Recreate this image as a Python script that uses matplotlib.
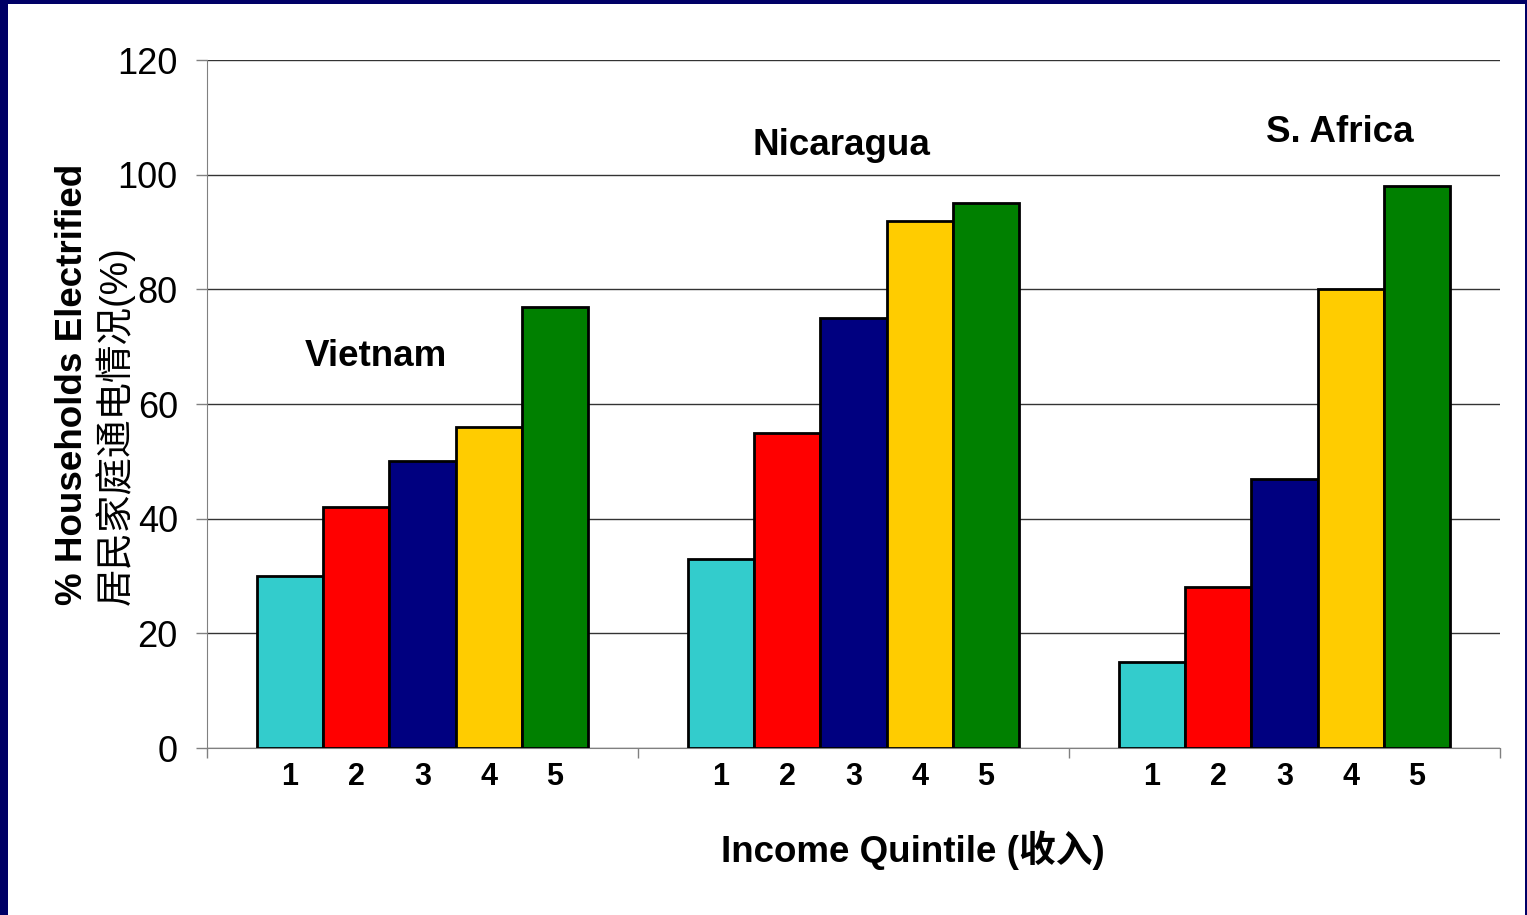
import matplotlib
matplotlib.use("Agg")
import matplotlib.pyplot as plt
from matplotlib.patches import Rectangle
import numpy as np

countries = ["Vietnam", "Nicaragua", "S. Africa"]
quintiles = ["1", "2", "3", "4", "5"]
# values per quintile (rows) across countries (columns)
q1 = [30, 33, 15]
q2 = [42, 55, 28]
q3 = [50, 75, 47]
q4 = [56, 92, 80]
q5 = [77, 95, 98]
series = [q1, q2, q3, q4, q5]
colors = ["#33CCCC", "#FF0000", "#000080", "#FFCC00", "#008000"]
yticks = [0, 20, 40, 60, 80, 100, 120]

W, H = 1527, 915
fig = plt.figure(figsize=(W / 100, H / 100), dpi=100)
fig.patch.set_facecolor("#000066")
fig.add_artist(Rectangle((8 / W, 0), (1525 - 8) / W, (H - 4) / H,
                         transform=fig.transFigure, facecolor="white",
                         edgecolor="none", zorder=-1))

fam = ["Liberation Sans", "Noto Sans CJK SC"]
plt.rcParams["font.family"] = fam

ax = fig.add_axes([207 / W, 1 - 748 / H, (1500 - 207) / W, 688 / H])
ax.set_facecolor("white")

bw = 66.2 / 431
centers = np.arange(len(countries)) + 0.5
minor_pos, minor_lab = [], []
for i, (vals, c) in enumerate(zip(series, colors)):
    xs = centers + (i - 2) * bw
    ax.bar(xs, vals, width=bw, color=c, edgecolor="black", linewidth=2.0, zorder=3)
    minor_pos.extend(xs)
    minor_lab.extend([quintiles[i]] * len(xs))

ax.set_xlim(0, 3)
ax.set_ylim(0, 120)
ax.set_yticks(yticks)
ax.set_yticklabels([str(v) for v in yticks], fontsize=26)
ax.tick_params(axis="y", direction="out", length=8, width=1, color="#808080", pad=13)

ax.set_xticks([0, 1, 2, 3])
ax.set_xticklabels([])
ax.tick_params(axis="x", which="major", direction="out", length=7.5, width=1, color="#808080")
ax.set_xticks(minor_pos, minor=True)
ax.set_xticklabels(minor_lab, minor=True, fontsize=22, fontweight="bold")
ax.tick_params(axis="x", which="minor", length=0, pad=10)

ax.yaxis.grid(True, color="#333333", linewidth=1, zorder=0)
ax.set_axisbelow(True)
for s in ["top", "right"]:
    ax.spines[s].set_visible(False)
ax.spines["left"].set_color("#808080")
ax.spines["bottom"].set_color("#808080")
ax.spines["left"].set_zorder(4)

# country annotations (baseline positions)
ann_pos = [(0.392, 66.6), (1.473, 103.4), (2.629, 105.7)]
for name, (x, y) in zip(countries, ann_pos):
    ax.text(x, y, name, ha="center", va="baseline", fontsize=26.5, fontweight="bold")

# axis labels
fig.text(72 / W, 1 - 605 / H, "% Households Electrified", rotation=90,
         rotation_mode="anchor", ha="left", va="center", fontsize=26.5,
         fontweight="bold", family=fam)
fig.text(115 / W, 1 - 605 / H, "居民家庭通电情况(%)", rotation=90,
         rotation_mode="anchor", ha="left", va="center", fontsize=27,
         family=fam)
fig.text(913 / W, 1 - 850 / H, "Income Quintile (收入)", ha="center", va="center",
         fontsize=26.5, fontweight="bold", family=fam)

fig.savefig("out.png", dpi=100, facecolor=fig.get_facecolor())
